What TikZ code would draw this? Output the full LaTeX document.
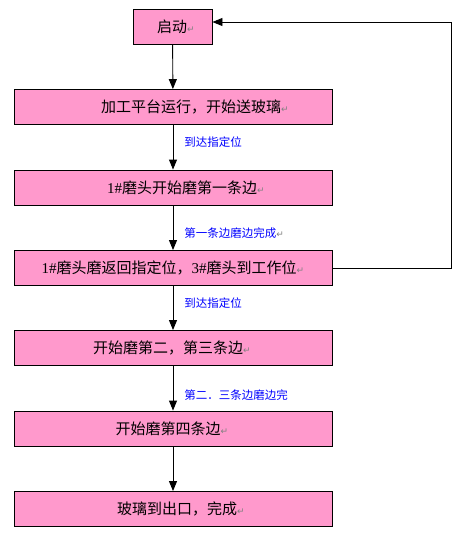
\documentclass[tikz,border=0pt]{standalone}
\usepackage{fontspec}
\setmainfont{Liberation Serif}
\newfontfamily\cjk{Noto Sans CJK SC}
\newfontfamily\symf{DejaVu Sans}
\usetikzlibrary{arrows.meta,positioning}
\definecolor{boxpink}{HTML}{FF99CC}
\newcommand{\pmark}{{\symf\color{gray}\fontsize{9}{9}\selectfont ↵}}
\tikzset{
  stepbox/.style={draw=black,line width=0.9pt,fill=boxpink,minimum height=35pt,inner sep=0pt},
  steptext/.style={font=\cjk\fontsize{15}{16}\selectfont,inner sep=0pt},
  steplabel/.style={font=\cjk\fontsize{11.5}{12}\selectfont,text=blue,anchor=west,inner sep=0pt},
  flow/.style={line width=0.9pt,-{Triangle[width=8pt,length=10pt]}}
}
\begin{document}
\begin{tikzpicture}[x=1pt,y=-1pt]
  \useasboundingbox (0,0) rectangle (459,539);
  % boxes
  \node[stepbox,minimum width=79pt] (start) at (172.5,26.5) {};
  \node[stepbox,minimum width=318pt] (feed) at (173,107) {};
  \node[stepbox,minimum width=318pt] (edge1) at (173,187.5) {};
  \node[stepbox,minimum width=318pt] (back) at (173,268) {};
  \node[stepbox,minimum width=318pt] (edge23) at (173,348) {};
  \node[stepbox,minimum width=318pt] (edge4) at (173,428.5) {};
  \node[stepbox,minimum width=318pt] (done) at (173,509) {};
  % texts
  \node[steptext] (tstart) at (176,27) {启动\pmark};
  \node[steptext] (tfeed) at (195,107) {加工平台运行，开始送玻璃\pmark};
  \node[steptext] (tedge1) at (186,188) {\textrm{1\#}磨头开始磨第一条边\pmark};
  \node[steptext] (tback) at (173,268) {\textrm{1\#}磨头磨返回指定位，\textrm{3\#}磨头到工作位\pmark};
  \node[steptext] (tedge23) at (172,348) {开始磨第二，第三条边\pmark};
  \node[steptext] (tedge4) at (172,429) {开始磨第四条边\pmark};
  \node[steptext] (tdone) at (181,509) {玻璃到出口，完成\pmark};
  % arrows
  \draw[flow] (start) -- (feed);
  \draw[flow] (feed) -- (edge1) node[steplabel,midway,xshift=11pt,yshift=5pt] (l1) {到达指定位};
  \draw[flow] (edge1) -- (back) node[steplabel,midway,xshift=11pt,yshift=-5.5pt] (l2) {第一条边磨边完成\pmark};
  \draw[flow] (back) -- (edge23) node[steplabel,midway,xshift=11pt,yshift=5pt] (l3) {到达指定位};
  \draw[flow] (edge23) -- (edge4) node[steplabel,midway,xshift=11pt,yshift=-7pt] (l4) {第二．三条边磨边完};
  \draw[flow] (edge4) -- (done);
  % return loop
  \coordinate (c1) at (451,268);
  \coordinate (c2) at (451,22);
  \draw[flow] (back.east |- c1) -- (c1) -- (c2) -- (start.east |- c2);
\end{tikzpicture}
\end{document}
